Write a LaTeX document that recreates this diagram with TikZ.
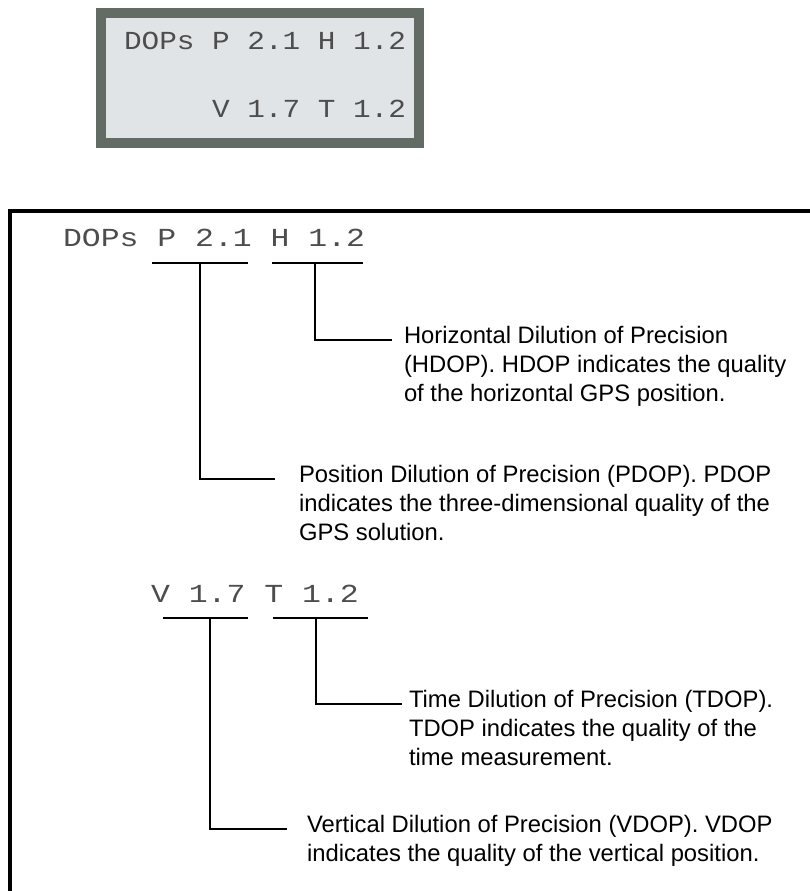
\documentclass[tikz,border=0pt]{standalone}
\usepackage{fontspec}
\setmainfont{Liberation Sans}
\newfontfamily\lcdfont[FakeStretch=1.13]{Liberation Mono}
\newfontfamily\lcdwide[FakeStretch=1.21]{Liberation Mono}
\usetikzlibrary{positioning}
\definecolor{lcdedge}{HTML}{636B65}
\definecolor{lcdface}{HTML}{E1E4E7}
\definecolor{lcdink}{HTML}{4D4D4D}
\tikzset{
  every picture/.style={x=1pt, y=-1pt, line width=2pt},
  lcd/.style={font=\lcdfont\fontsize{26}{26}\selectfont, text=lcdink, inner sep=0pt, anchor=base west},
  lcdcopy/.style={lcd, font=\lcdwide\fontsize{26}{26}\selectfont},
  desc/.style={font=\fontsize{23.8}{29}\selectfont, align=left, inner sep=0pt, anchor=north west},
  bar/.style={line width=2pt},
  lead/.style={line width=2pt},
}

\begin{document}
\begin{tikzpicture}
  \useasboundingbox (0,0) rectangle (809,891);
  % the display itself
  \fill[lcdedge] (96,8) rectangle (424,148);
  \fill[lcdface] (106,18) rectangle (414,138);
  \node[lcd] (row1) at (123,50) {DOPs P 2.1 H 1.2};
  \node[lcd] (row2) at (211,117) {V 1.7 T 1.2};
  % callout panel
  \draw[line width=3.2pt] (815,211) -- (10,211) -- (10,900);
  \node[lcdcopy] (dops) at (62,246) {DOPs P 2.1 H 1.2};
  \node[lcdcopy] (vt) at (150,602) {V 1.7 T 1.2};
  \draw[bar] (152,263) -- (248,263);
  \draw[bar] (272,263) -- (363,263);
  \draw[bar] (163,618) -- (248,618);
  \draw[bar] (273,618) -- (368,618);
  \coordinate (pbar) at (200,263);
  \coordinate (hbar) at (315,263);
  \coordinate (vbar) at (210,618);
  \coordinate (tbar) at (316,618);
  % descriptions
  \node[desc] (hdop) at (403,321.7) {\strut Horizontal Dilution of Precision\\(HDOP). HDOP indicates the quality\\of the horizontal GPS position.};
  \node[desc] (pdop) at (298,460.7) {\strut Position Dilution of Precision (PDOP). PDOP\\indicates the three-dimensional quality of the\\GPS solution.};
  \node[desc] (tdop) at (408,685.7) {\strut Time Dilution of Precision (TDOP).\\TDOP indicates the quality of the\\time measurement.};
  \node[desc] (vdop) at (306,810.7) {\strut Vertical Dilution of Precision (VDOP). VDOP\\indicates the quality of the vertical position.};
  \draw[lead] (hbar) |- ([xshift=-11pt,yshift=-18.3pt]hdop.north west);
  \draw[lead] (pbar) |- ([xshift=-23pt,yshift=-18.3pt]pdop.north west);
  \draw[lead] (tbar) |- ([xshift=-6pt,yshift=-18.3pt]tdop.north west);
  \draw[lead] (vbar) |- ([xshift=-19pt,yshift=-18.3pt]vdop.north west);
\end{tikzpicture}
\end{document}
